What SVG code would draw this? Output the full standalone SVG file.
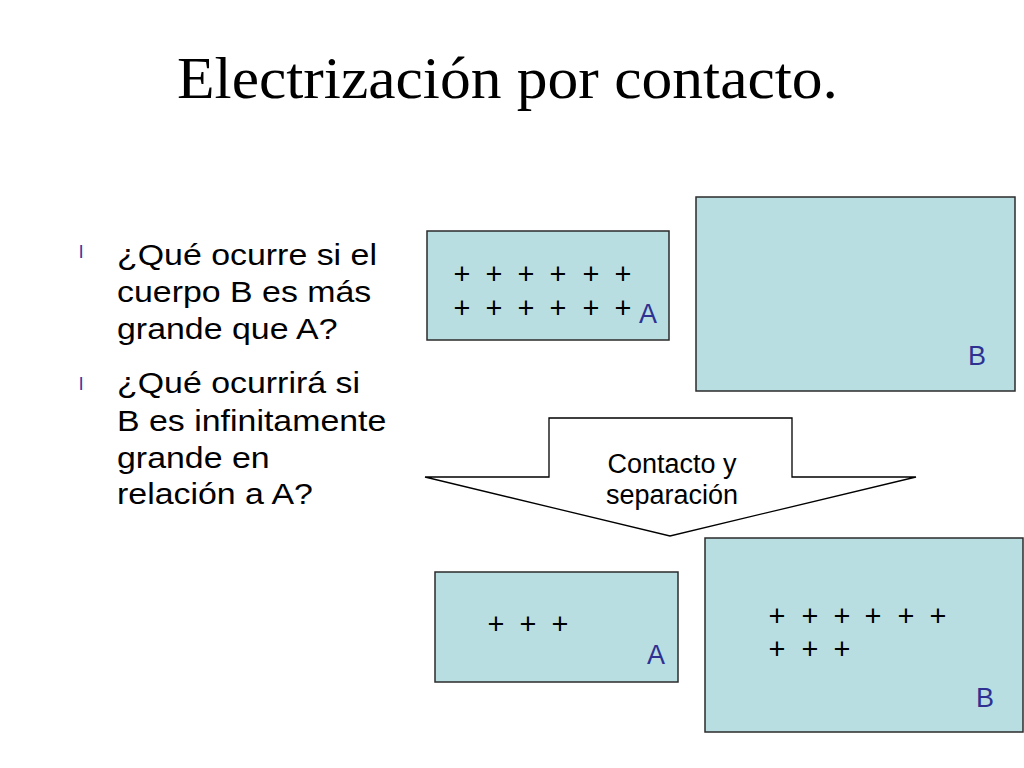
<svg xmlns="http://www.w3.org/2000/svg" width="1024" height="768" viewBox="0 0 1024 768">
<style>
.box{fill:#B9DEE2;stroke:#2b2b2b;stroke-width:1.5}
.plus{font-family:"Liberation Sans",Arial,sans-serif;font-size:29px;fill:#000;text-anchor:middle}
.lbl{font-family:"Liberation Sans",Arial,sans-serif;font-size:27px;fill:#2E3192;text-anchor:middle}
.body{font-family:"Liberation Sans",Arial,sans-serif;font-size:30px;fill:#000}
.bul{font-family:"Liberation Sans",Arial,sans-serif;font-size:19px;fill:#3333A0}
.cap{font-family:"Liberation Sans",Arial,sans-serif;font-size:27px;fill:#000;text-anchor:middle}
.title{font-family:"Liberation Serif","Times New Roman",serif;font-size:60px;fill:#000}
</style>
<rect width="1024" height="768" fill="#fff"/>
<g id="title">
<text class="title" x="177" y="98" textLength="661" lengthAdjust="spacingAndGlyphs">Electrización por contacto.</text>
</g>
<g id="questions">
<text class="bul" x="79" y="258">l</text>
<text class="bul" x="79" y="390">l</text>
<g transform="translate(117,0) scale(1.13,1)">
<text class="body" x="0" y="265">¿Qué ocurre si el</text>
<text class="body" x="0" y="302">cuerpo B es más</text>
<text class="body" x="0" y="339">grande que A?</text>
<text class="body" x="0" y="393">¿Qué ocurrirá si</text>
<text class="body" x="0" y="431">B es infinitamente</text>
<text class="body" x="0" y="468">grande en</text>
<text class="body" x="0" y="504">relación a A?</text>
</g>
</g>
<g id="A-before">
<rect class="box" x="427" y="231" width="242" height="109"/>
<text class="plus" y="284"><tspan x="462">+</tspan><tspan x="494">+</tspan><tspan x="526">+</tspan><tspan x="558">+</tspan><tspan x="591">+</tspan><tspan x="623">+</tspan></text>
<text class="plus" y="318"><tspan x="462">+</tspan><tspan x="494">+</tspan><tspan x="526">+</tspan><tspan x="558">+</tspan><tspan x="591">+</tspan><tspan x="623">+</tspan></text>
<text class="lbl" x="648" y="323">A</text>
</g>
<g id="B-before">
<rect class="box" x="696" y="197" width="319" height="194"/>
<text class="lbl" x="977" y="365">B</text>
</g>
<g id="connectors">
<g id="arrow-contact">
<polygon points="549,418 792,418 792,477 916,477 670,536 425,477 549,477" fill="#fff" stroke="#000" stroke-width="1.3" stroke-linejoin="miter"/>
<text class="cap" x="672" y="473">Contacto y</text>
<text class="cap" x="672" y="504">separación</text>
</g>
</g>
<g id="A-after">
<rect class="box" x="435" y="572" width="243" height="110"/>
<text class="plus" y="634"><tspan x="496">+</tspan><tspan x="528">+</tspan><tspan x="560">+</tspan></text>
<text class="lbl" x="656" y="664">A</text>
</g>
<g id="B-after">
<rect class="box" x="705" y="538" width="318" height="194"/>
<text class="plus" y="626"><tspan x="777">+</tspan><tspan x="810">+</tspan><tspan x="842">+</tspan><tspan x="873">+</tspan><tspan x="906">+</tspan><tspan x="938">+</tspan></text>
<text class="plus" y="659"><tspan x="777">+</tspan><tspan x="810">+</tspan><tspan x="842">+</tspan></text>
<text class="lbl" x="985" y="707">B</text>
</g>
</svg>
